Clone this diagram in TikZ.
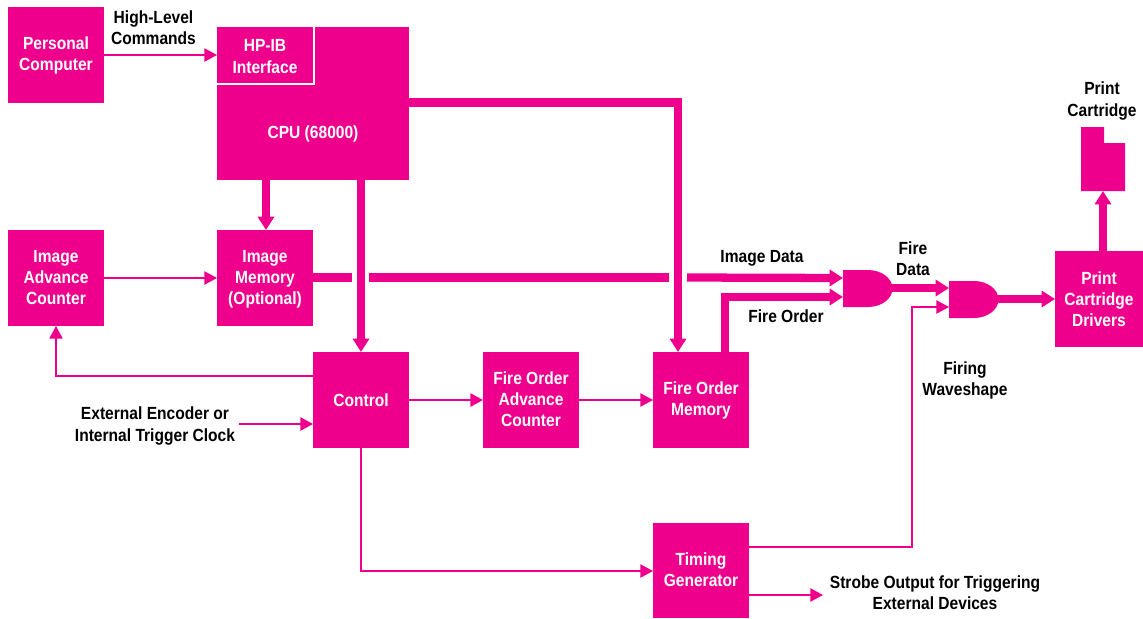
\documentclass[tikz,border=0pt]{standalone}
\usepackage{fontspec}
\setmainfont{Liberation Sans}[FakeStretch=0.885]
\usetikzlibrary{arrows.meta,positioning}
\definecolor{mag}{HTML}{EE008C}
\newcommand{\lfont}{\fontsize{13.2}{15.8}\selectfont\bfseries}
\tikzset{
  x=0.75pt,y=-0.75pt,
  blk/.style={fill=mag,inner sep=0pt,outer sep=0pt,anchor=north west,minimum width=72pt,minimum height=72pt},
  wlbl/.style={inner sep=0pt,align=center,text=white,font=\lfont},
  lbl/.style={inner sep=0pt,align=center,text=black,font=\lfont},
  thin line/.style={draw=mag,line width=1pt,-{Triangle[length=9.5pt,width=10pt]}},
  thick line/.style={draw=mag,line width=6.2pt,-{Triangle[length=10pt,width=12pt]}},
  thick plain/.style={draw=mag,line width=6.2pt},
}
\newcommand{\andgate}[2]{%
  \fill[mag] (#1,#2) -- ++(25,0) arc[start angle=-90,end angle=90,x radius=24.5,y radius=18.5] -- ++(-25,0) -- cycle;}
\begin{document}
\begin{tikzpicture}
\useasboundingbox (0,0) rectangle (1143,618);
\node[blk] (pc) at (8,7) {};
\node[blk,minimum width=144pt,minimum height=114.75pt] (cpu) at (217,27) {};
\node[blk,minimum width=71pt,minimum height=42pt] (hpib) at (217,27) {};
\draw[white,line width=1.5pt] (313.5,27) -- (313.5,83.5) -- (217,83.5);
\node[blk] (iac) at (8,230) {};
\node[blk] (im) at (217,230) {};
\node[blk] (ctl) at (313,352) {};
\node[blk] (foac) at (483,352) {};
\node[blk] (fom) at (653,352) {};
\node[blk,minimum height=71.25pt] (tg) at (653,523) {};
\node[blk,minimum width=66pt] (drv) at (1055,251) {};
\fill[mag] (1081,127) -- (1104,127) -- (1104,143) -- (1125,143) -- (1125,191) -- (1081,191) -- cycle;
\coordinate (cart) at (1103,191);
\andgate{843}{270}
\andgate{949}{281}
\coordinate (g1a) at (843,278);
\coordinate (g1b) at (843,297);
\coordinate (g1o) at (890,288);
\coordinate (g2a) at (949,288);
\coordinate (g2b) at (949,307);
\coordinate (g2o) at (996,299);
\coordinate (ext) at (239,424);
\coordinate (strobe) at (823,595);
% box labels
\node[wlbl] (t1) at (56,55.5) {Personal\\Computer};
\node[wlbl] (t2) at (265,56.5) {HP-IB\\[1pt]Interface};
\node[wlbl] (t3) at (313,134) {CPU (68000)};
\node[wlbl] (t4) at (56,277.5) {Image\\Advance\\Counter};
\node[wlbl] (t5) at (265,279.5) {Image\\Memory\\(Optional)};
\node[wlbl] (t6) at (361,400.5) {Control};
\node[wlbl] (t7) at (531,399.5) {Fire Order\\Advance\\Counter};
\node[wlbl] (t8) at (701,400) {Fire Order\\Memory};
\node[wlbl] (t9) at (701,570) {Timing\\Generator};
\node[wlbl] (t10) at (1099,299.5) {Print\\Cartridge\\Drivers};
% labels
\node[lbl] (hl) at (153.5,28) {High-Level\\Commands};
\node[lbl] (id) at (762,258) {Image Data};
\node[lbl] (fo) at (786,316) {Fire Order};
\node[lbl] (fd) at (913,259) {Fire\\Data};
\node[lbl] (fw) at (965,380) {Firing\\Waveshape};
\node[lbl] (pcl) at (1102,101) {Print\\Cartridge};
\node[lbl] (ee) at (155,426) {External Encoder or\\Internal Trigger Clock};
\node[lbl] (so) at (935,593) {Strobe Output for Triggering\\External Devices};
% thin
\draw[thin line] (104,55) -- (217,55);
\draw[thin line] (iac.east) -- (im.west);
\draw[thin line] (313,376) -| (iac.south);
\draw[thin line] (ext) -- (313,424);
\draw[thin line] (ctl.east) -- (foac.west);
\draw[thin line] (foac.east) -- (fom.west);
\draw[thin line] (ctl.south) |- (653,571);
\draw[thin line] (749,595) -- (strobe);
\draw[thin line] (749,547) -- (912,547) -- (912,307) -- (g2b);
% thick
\draw[thick line] (409,102.5) -- (678,102.5) -- (678,352);
\draw[thick line] (266,180) -- (266,230);
\draw[thick line] (361,180) -- (361,352);
\draw[thick plain] (313,277.5) -- (352,277.5);
\draw[thick plain] (369,277.5) -- (669,277.5);
\draw[thick line] (687,277.5) -- (g1a);
\draw[thick line] (725,352) -- (725,297) -- (g1b);
\draw[thick line] (g1o) -- (g2a);
\draw[thick line] (g2o) -- (1055,299);
\draw[thick line] (1103,251) -- (cart);
\end{tikzpicture}
\end{document}
